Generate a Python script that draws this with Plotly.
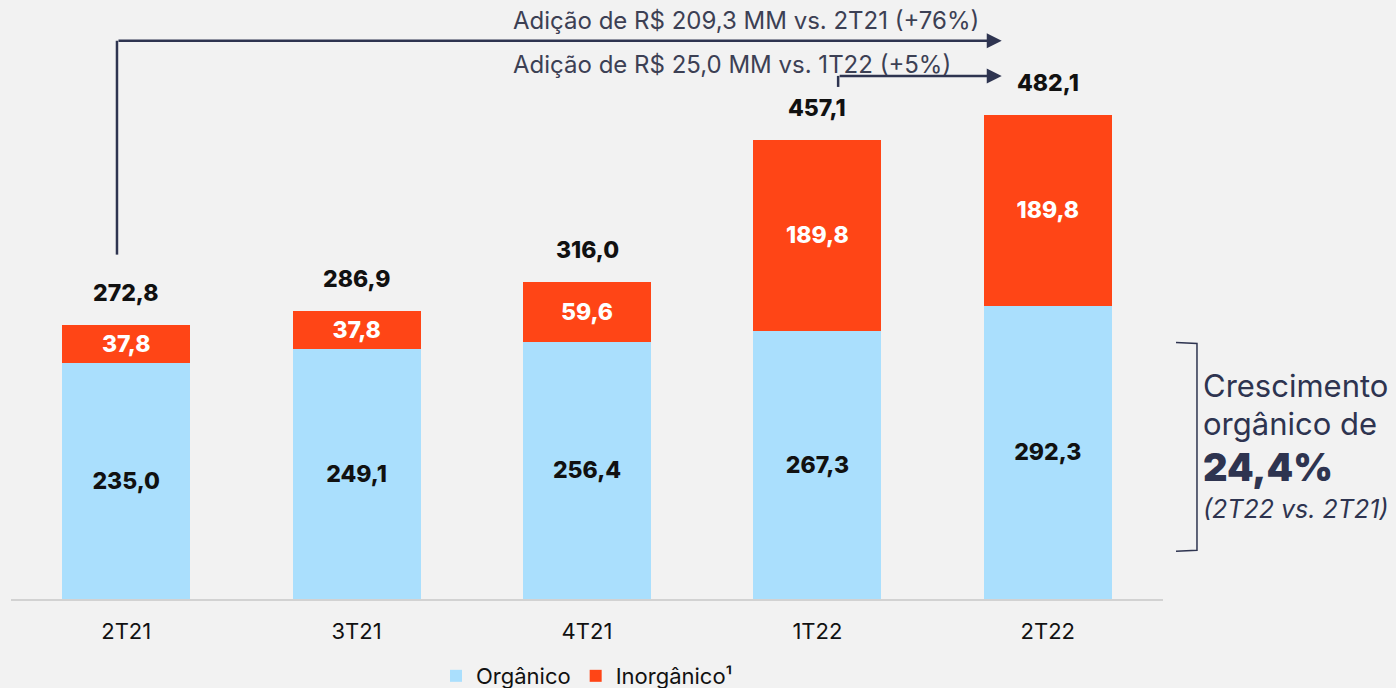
import plotly.graph_objects as go

categories = ["2T21", "3T21", "4T21", "1T22", "2T22"]
organico = [235.0, 249.1, 256.4, 267.3, 292.3]
inorganico = [37.8, 37.8, 59.6, 189.8, 189.8]
totais = [272.8, 286.9, 316.0, 457.1, 482.1]

arrow_big_text = "Adição de R$ 209,3 MM vs. 2T21 (+76%)"
arrow_small_text = "Adição de R$ 25,0 MM vs. 1T22 (+5%)"
side_lines = ["Crescimento", "orgânico de", "24,4%", "(2T22 vs. 2T21)"]

BG = "#f2f2f2"
NAVY = "#2e3450"
TXT = "#3c4054"
BLUE = "#aadffd"
ORANGE = "#ff4516"
FONT = "Inter"

fig = go.Figure()
fig.add_trace(go.Bar(
    x=categories, y=organico, name="Orgânico", marker_color=BLUE, marker_line_width=0,
    width=0.555, texttemplate="%{y:.1f}", textposition="inside",
    insidetextanchor="middle", textangle=0,
    textfont=dict(size=23, color="#111111", family=FONT, weight=800), constraintext="none",
))
fig.add_trace(go.Bar(
    x=categories, y=inorganico, name="Inorgânico¹", marker_color=ORANGE, marker_line_width=0,
    width=0.555, texttemplate="%{y:.1f}", textposition="inside",
    insidetextanchor="middle", textangle=0,
    textfont=dict(size=23, color="#ffffff", family=FONT, weight=800), constraintext="none",
))

annotations = []
for c, t in zip(categories, totais):
    annotations.append(dict(
        x=c, y=t, xref="x", yref="y", text=f"{t:.1f}".replace(".", ","),
        showarrow=False, yshift=32, font=dict(size=23, color="#111111", family=FONT, weight=800),
    ))

# Big arrow (2T21 -> 2T22)
big_y = 556
small_y = 521
text_x = 1.670
fig.add_shape(type="line", xref="x", yref="y", x0=-0.04, x1=-0.04, y0=343, y1=big_y,
              line=dict(color=NAVY, width=2.5))
annotations.append(dict(x=3.80, y=big_y, ax=-0.04, ay=big_y, xref="x", yref="y",
                        axref="x", ayref="y", showarrow=True, arrowhead=2, arrowsize=1.2,
                        arrowwidth=2.5, arrowcolor=NAVY, text=""))
annotations.append(dict(x=text_x, y=big_y, xref="x", yref="y", xanchor="left", yshift=20,
                        text=arrow_big_text, showarrow=False,
                        font=dict(size=24, color=TXT, family=FONT)))
# Small arrow (1T22 -> 2T22)
fig.add_shape(type="line", xref="x", yref="y", x0=3.09, x1=3.09, y0=510, y1=small_y,
              line=dict(color=NAVY, width=2.5))
annotations.append(dict(x=3.80, y=small_y, ax=3.09, ay=small_y, xref="x", yref="y",
                        axref="x", ayref="y", showarrow=True, arrowhead=2, arrowsize=1.2,
                        arrowwidth=2.5, arrowcolor=NAVY, text=""))
annotations.append(dict(x=text_x, y=small_y, xref="x", yref="y", xanchor="left", yshift=11,
                        text=arrow_small_text, showarrow=False,
                        font=dict(size=24, color=TXT, family=FONT)))

# Bracket on the right
fig.add_shape(type="path", xref="paper", yref="y",
              path="M 1.0113,255.5 L 1.0295,254.5 L 1.0295,48.5 L 1.0113,47.5",
              line=dict(color=NAVY, width=1.5))

side_y_px = [386, 424, 467, 509]
side_fmt = [
    dict(size=31, weight=400, style="normal"),
    dict(size=31, weight=400, style="normal"),
    dict(size=38, weight=900, style="normal"),
    dict(size=25, weight=400, style="italic"),
]
for txt, ypx, fmt in zip(side_lines, side_y_px, side_fmt):
    annotations.append(dict(x=(1201 - 11) / 1152, y=(599 - ypx) / 1.004, xref="paper", yref="y",
                            xanchor="left", yanchor="middle", text=txt, showarrow=False,
                            font=dict(size=fmt["size"], color=NAVY, family=FONT,
                                      weight=fmt["weight"], style=fmt["style"])))

fig.update_layout(
    barmode="stack",
    separators=",.",
    width=1396, height=688,
    paper_bgcolor=BG, plot_bgcolor=BG,
    margin=dict(l=11, r=233, t=1, b=89, autoexpand=False),
    showlegend=True,
    legend=dict(orientation="h", x=0.5, xanchor="center", y=-0.1288, yanchor="middle",
                font=dict(size=22, color="#111111", family=FONT), traceorder="normal",
                itemwidth=30, bgcolor="rgba(0,0,0,0)"),
    annotations=annotations,
    xaxis=dict(range=[-0.5, 4.5], showline=True, linecolor="#d2d2d2", linewidth=2,
               ticks="outside", ticklen=12, tickcolor="rgba(0,0,0,0)",
               tickfont=dict(size=22, color="#111111", family=FONT), showgrid=False,
               fixedrange=True),
    yaxis=dict(range=[0, 595.6], visible=False, showgrid=False, fixedrange=True),
    font=dict(family=FONT),
)

fig.write_html(
    "out.html",
    config={"displayModeBar": False},
    post_script="document.body.style.margin='0';document.body.style.background='#f2f2f2';",
)
